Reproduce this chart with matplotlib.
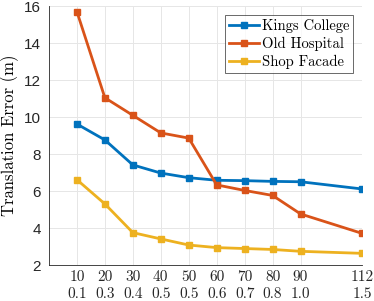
import matplotlib
matplotlib.use("Agg")
import matplotlib.pyplot as plt

# data
x = [10, 20, 30, 40, 50, 60, 70, 80, 90, 112]
x_top = ['10', '20', '30', '40', '50', '60', '70', '80', '90', '112']
x_bot = ['0.1', '0.3', '0.4', '0.5', '0.5', '0.6', '0.7', '0.8', '1.0', '1.5']

kings = [9.62, 8.76, 7.41, 6.97, 6.72, 6.58, 6.56, 6.52, 6.50, 6.11]
hospital = [15.69, 11.04, 10.09, 9.14, 8.86, 6.33, 6.03, 5.76, 4.76, 3.71]
shop = [6.61, 5.30, 3.75, 3.41, 3.08, 2.94, 2.89, 2.84, 2.74, 2.63]

fig = plt.figure(figsize=(3.74, 3.01), dpi=100)
ax = fig.add_axes([0.131, 0.1196, 0.837, 0.8604])

ax.plot(x, kings, '-s', color='#0072BD', lw=2, ms=4.5, label='Kings College')
ax.plot(x, hospital, '-s', color='#D95319', lw=2, ms=4.5, label='Old Hospital')
ax.plot(x, shop, '-s', color='#EDB120', lw=2, ms=4.5, label='Shop Facade')

ax.set_xlim(0, 112)
ax.set_ylim(2, 16)
ax.set_yticks([2, 4, 6, 8, 10, 12, 14, 16])
ax.set_xticks(x)
ax.set_xticklabels(['%s\n%s' % (a, b) for a, b in zip(x_top, x_bot)],
                   fontfamily='cmr10', fontsize=11, linespacing=1.35)
for lab in ax.get_yticklabels():
    lab.set_fontfamily('Liberation Sans')
    lab.set_fontsize(11)
ax.tick_params(axis='y', length=0, pad=6, colors='#262626')
ax.tick_params(axis='x', length=0, pad=3.5, colors='#262626')

ax.grid(True, color='#e6e6e6', lw=0.7)
ax.set_axisbelow(True)
for s in ['top', 'right']:
    ax.spines[s].set_visible(False)
for s in ['left', 'bottom']:
    ax.spines[s].set_color('#262626')
    ax.spines[s].set_linewidth(0.6)

ax.set_ylabel('Translation Error (m)', fontfamily='cmr10', fontsize=12, labelpad=3)

leg = ax.legend(loc='upper right', handlelength=2.0, handletextpad=0.2,
                borderpad=0.3, labelspacing=0.25, borderaxespad=0.6, fancybox=False,
                prop={'family': 'cmr10', 'size': 10.5})
leg.get_frame().set_edgecolor('#262626')
leg.get_frame().set_linewidth(0.6)

fig.savefig('out.png', dpi=100)
